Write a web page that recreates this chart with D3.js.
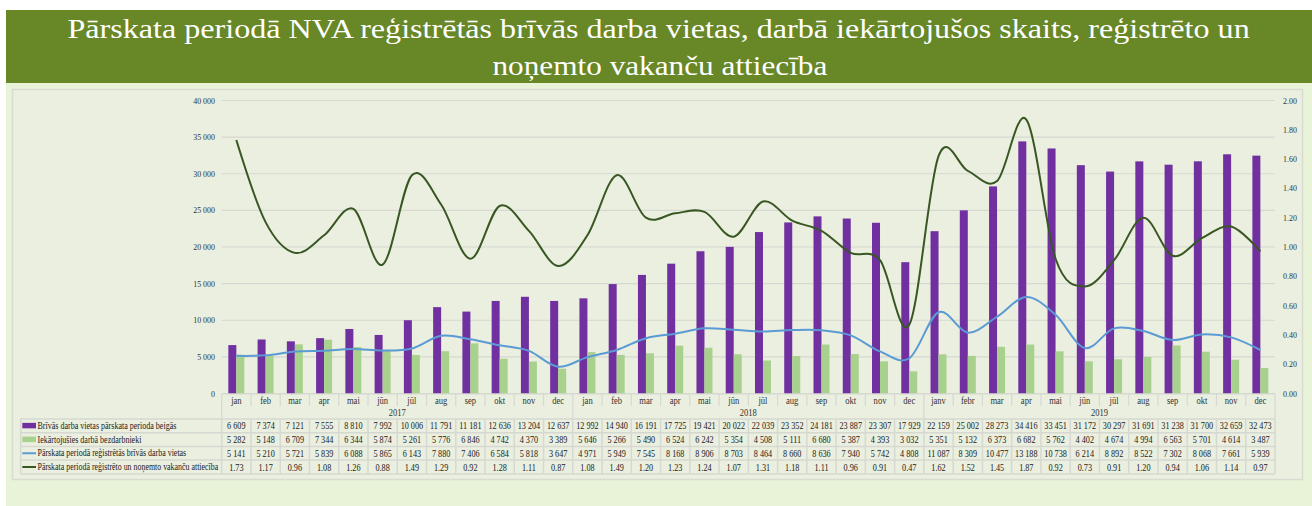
<!DOCTYPE html>
<html>
<head>
<meta charset="utf-8">
<script src="https://cdn.jsdelivr.net/npm/d3@7"></script>
<style>
  body { margin: 0; background: #fff; }
  svg { display: block; font-family: 'Liberation Serif', 'Times New Roman', serif; }
</style>
</head>
<body>
<script>
// data
const months = [
  'jan','feb','mar','apr','mai','jūn','jūl','aug','sep','okt','nov','dec',
  'jan','feb','mar','apr','mai','jūn','jūl','aug','sep','okt','nov','dec',
  'janv','febr','mar','apr','mai','jūn','jūl','aug','sep','okt','nov','dec'
];
const years = ['2017', '2018', '2019'];

const vacanciesEnd = [
  6609, 7374, 7121, 7555, 8810, 7992, 10006, 11791, 11181, 12636, 13204, 12637,
  12992, 14940, 16191, 17725, 19421, 20022, 22039, 23352, 24181, 23887, 23307, 17929,
  22159, 25002, 28273, 34416, 33451, 31172, 30297, 31691, 31238, 31700, 32659, 32473
];
const employed = [
  5282, 5148, 6709, 7344, 6344, 5874, 5261, 5776, 6846, 4742, 4370, 3389,
  5646, 5266, 5490, 6524, 6242, 5354, 4508, 5111, 6680, 5387, 4393, 3032,
  5351, 5132, 6373, 6682, 5762, 4402, 4674, 4994, 6563, 5701, 4614, 3487
];
const registered = [
  5141, 5210, 5721, 5839, 6088, 5865, 6143, 7880, 7406, 6584, 5818, 3647,
  4971, 5949, 7545, 8168, 8906, 8703, 8464, 8660, 8636, 7940, 5742, 4808,
  11087, 8309, 10477, 13188, 10738, 6214, 8892, 8522, 7302, 8068, 7661, 5939
];
const ratio = [
  1.73, 1.17, 0.96, 1.08, 1.26, 0.88, 1.49, 1.29, 0.92, 1.28, 1.11, 0.87,
  1.08, 1.49, 1.20, 1.23, 1.24, 1.07, 1.31, 1.18, 1.11, 0.96, 0.91, 0.47,
  1.62, 1.52, 1.45, 1.87, 0.92, 0.73, 0.91, 1.20, 0.94, 1.06, 1.14, 0.97
];

const leftTicks = [0, 5000, 10000, 15000, 20000, 25000, 30000, 35000, 40000];
const rightTicks = [0, 0.2, 0.4, 0.6, 0.8, 1.0, 1.2, 1.4, 1.6, 1.8, 2.0];

const seriesNames = [
  'Brīvās darba vietas pārskata perioda beigās',
  'Iekārtojušies darbā bezdarbnieki',
  'Pārskata periodā reģistrētās brīvās darba vietas',
  'Pārskata periodā reģistrēto un noņemto vakanču attiecība'
];

const width = 1312, height = 506;
const purple = '#7030a0', lightGreen = '#a9d18e', blue = '#5b9bd5', darkGreen = '#385723';
const gridColor = '#d6d8d2';
const fmt = d => d3.format(',')(d).replace(/,/g, ' ');

const svg = d3.select('body').append('svg')
  .attr('width', width)
  .attr('height', height);

// squeeze a text horizontally to a given width (the source image is condensed)
function fitWidth(node, x0, y0, w, anchor) {
  const nat = node.getComputedTextLength();
  const sx = w / nat;
  const shift = anchor === 'middle' ? -w / 2 : 0;
  d3.select(node)
    .attr('x', 0).attr('y', 0)
    .attr('text-anchor', 'start')
    .attr('transform', `translate(${x0 + shift},${y0}) scale(${sx},1)`);
}
function squeeze(sel, sx) {
  sel.each(function() {
    const t = d3.select(this);
    const x0 = +t.attr('x'), y0 = +t.attr('y');
    t.attr('x', 0).attr('y', 0)
      .attr('transform', `translate(${x0},${y0}) scale(${sx},1)`);
  });
}

// backgrounds
svg.append('rect').attr('x', 6).attr('y', 83).attr('width', width - 6).attr('height', height - 83)
  .attr('fill', '#e9f3d8');
svg.append('rect').attr('x', 6).attr('y', 10).attr('width', width - 6).attr('height', 73)
  .attr('fill', '#688727');
svg.append('rect').attr('x', 12.5).attr('y', 89.5).attr('width', 1290).attr('height', 390)
  .attr('fill', '#ebefdf').attr('stroke', '#d8dbd2').attr('stroke-width', 1.5);

// title
const t1 = svg.append('text')
  .attr('fill', '#fff')
  .style('font-size', '28px')
  .text('Pārskata periodā NVA reģistrētās brīvās darba vietas, darbā iekārtojušos skaits, reģistrēto un');
fitWidth(t1.node(), 659, 38, 1183, 'middle');
const t2 = svg.append('text')
  .attr('fill', '#fff')
  .style('font-size', '28px')
  .text('noņemto vakanču attiecība');
fitWidth(t2.node(), 660, 75, 335, 'middle');

// scales
const x = d3.scaleBand()
  .domain(d3.range(months.length))
  .range([221.7, 1275]);

const y = d3.scaleLinear().domain([0, 40000]).range([393.5, 100.5]);
const y2 = d3.scaleLinear().domain([0, 2]).range([393.5, 100.5]);

// gridlines
svg.append('g')
  .selectAll('line')
  .data(leftTicks)
  .join('line')
  .attr('x1', x.range()[0]).attr('x2', x.range()[1])
  .attr('y1', d => y(d)).attr('y2', d => y(d))
  .attr('stroke', gridColor).attr('stroke-width', 1.2);

// left axis labels
svg.append('g')
  .selectAll('text')
  .data(leftTicks)
  .join('text')
  .attr('x', 215)
  .attr('y', d => y(d) + 3)
  .attr('text-anchor', 'end')
  .style('font-size', '9px')
  .attr('fill', '#333')
  .text(fmt)
  .call(squeeze, 0.88);

// right axis labels
svg.append('g')
  .selectAll('text')
  .data(rightTicks)
  .join('text')
  .attr('x', 1283)
  .attr('y', d => y2(d) + 3)
  .style('font-size', '9px')
  .attr('fill', '#333')
  .text(d => d.toFixed(2))
  .call(squeeze, 0.88);

// bars
const barW = 8;
svg.append('g')
  .selectAll('rect')
  .data(vacanciesEnd)
  .join('rect')
  .attr('x', (d, i) => x(i) + x.bandwidth() / 2 - barW)
  .attr('y', d => y(d))
  .attr('width', barW)
  .attr('height', d => y(0) - y(d))
  .attr('fill', purple);

svg.append('g')
  .selectAll('rect')
  .data(employed)
  .join('rect')
  .attr('x', (d, i) => x(i) + x.bandwidth() / 2)
  .attr('y', d => y(d))
  .attr('width', barW)
  .attr('height', d => y(0) - y(d))
  .attr('fill', lightGreen);

// smoothed lines
const cx = (d, i) => x(i) + x.bandwidth() / 2;
svg.append('path')
  .datum(registered)
  .attr('d', d3.line().x(cx).y(d => y(d)).curve(d3.curveCardinal.tension(0)))
  .attr('fill', 'none').attr('stroke', blue).attr('stroke-width', 2);

svg.append('path')
  .datum(ratio)
  .attr('d', d3.line().x(cx).y(d => y2(d)).curve(d3.curveCardinal.tension(0)))
  .attr('fill', 'none').attr('stroke', darkGreen).attr('stroke-width', 2);

// category axis: months and years
const axisG = svg.append('g');
axisG.append('line')
  .attr('x1', x.range()[0]).attr('x2', x.range()[1])
  .attr('y1', 394).attr('y2', 394)
  .attr('stroke', gridColor).attr('stroke-width', 1.2);

axisG.selectAll('.sep')
  .data(d3.range(months.length + 1))
  .join('line')
  .attr('x1', i => i < months.length ? x(i) : x.range()[1])
  .attr('x2', i => i < months.length ? x(i) : x.range()[1])
  .attr('y1', 394)
  .attr('y2', i => i % 12 === 0 ? 419 : 406)
  .attr('stroke', gridColor).attr('stroke-width', 1.2);

axisG.selectAll('.month')
  .data(months)
  .join('text')
  .attr('x', cx)
  .attr('y', 403.5)
  .attr('text-anchor', 'middle')
  .style('font-size', '9.5px')
  .attr('fill', '#333')
  .text(d => d)
  .call(squeeze, 0.9);

axisG.selectAll('.year')
  .data(years)
  .join('text')
  .attr('x', (d, i) => (x(i * 12) + (i < 2 ? x(i * 12 + 12) : x.range()[1])) / 2)
  .attr('y', 416)
  .attr('text-anchor', 'middle')
  .style('font-size', '9.5px')
  .attr('fill', '#333')
  .text(d => d)
  .call(squeeze, 0.9);

// data table
const rowTops = [419, 432.7, 446.5, 460, 474];
const tableLeft = 20.7;
const tableG = svg.append('g');

tableG.selectAll('.hline')
  .data(rowTops)
  .join('line')
  .attr('x1', tableLeft).attr('x2', x.range()[1])
  .attr('y1', d => d).attr('y2', d => d)
  .attr('stroke', gridColor).attr('stroke-width', 1.5);

tableG.selectAll('.vline')
  .data([tableLeft].concat(d3.range(months.length).map(i => x(i)), [x.range()[1]]))
  .join('line')
  .attr('x1', d => d).attr('x2', d => d)
  .attr('y1', rowTops[0]).attr('y2', rowTops[4])
  .attr('stroke', gridColor).attr('stroke-width', 1.5);

const tableRows = [
  vacanciesEnd.map(fmt),
  employed.map(fmt),
  registered.map(fmt),
  ratio.map(d => d.toFixed(2))
];

tableRows.forEach((row, r) => {
  const mid = (rowTops[r] + rowTops[r + 1]) / 2;
  tableG.append('g')
    .selectAll('text')
    .data(row)
    .join('text')
    .attr('x', cx)
    .attr('y', mid + 3.5)
    .attr('text-anchor', 'middle')
    .style('font-size', '10px')
    .attr('fill', '#222')
    .text(d => d)
    .call(squeeze, 0.82);
});

// legend keys inside the table
const legendLen = [139, 104, 149, 181];
seriesNames.forEach((name, r) => {
  const mid = (rowTops[r] + rowTops[r + 1]) / 2;
  if (r < 2) {
    tableG.append('rect')
      .attr('x', 22.3).attr('y', mid - 3).attr('width', 13.7).attr('height', 5.5)
      .attr('fill', r === 0 ? purple : lightGreen);
  } else {
    tableG.append('line')
      .attr('x1', 22.3).attr('x2', 36).attr('y1', mid).attr('y2', mid)
      .attr('stroke', r === 2 ? blue : darkGreen).attr('stroke-width', 2);
  }
  const lt = tableG.append('text')
    .style('font-size', '10px')
    .attr('fill', '#222')
    .text(name);
  fitWidth(lt.node(), 37.5, mid + 3.2, legendLen[r], 'start');
});
</script>
</body>
</html>
